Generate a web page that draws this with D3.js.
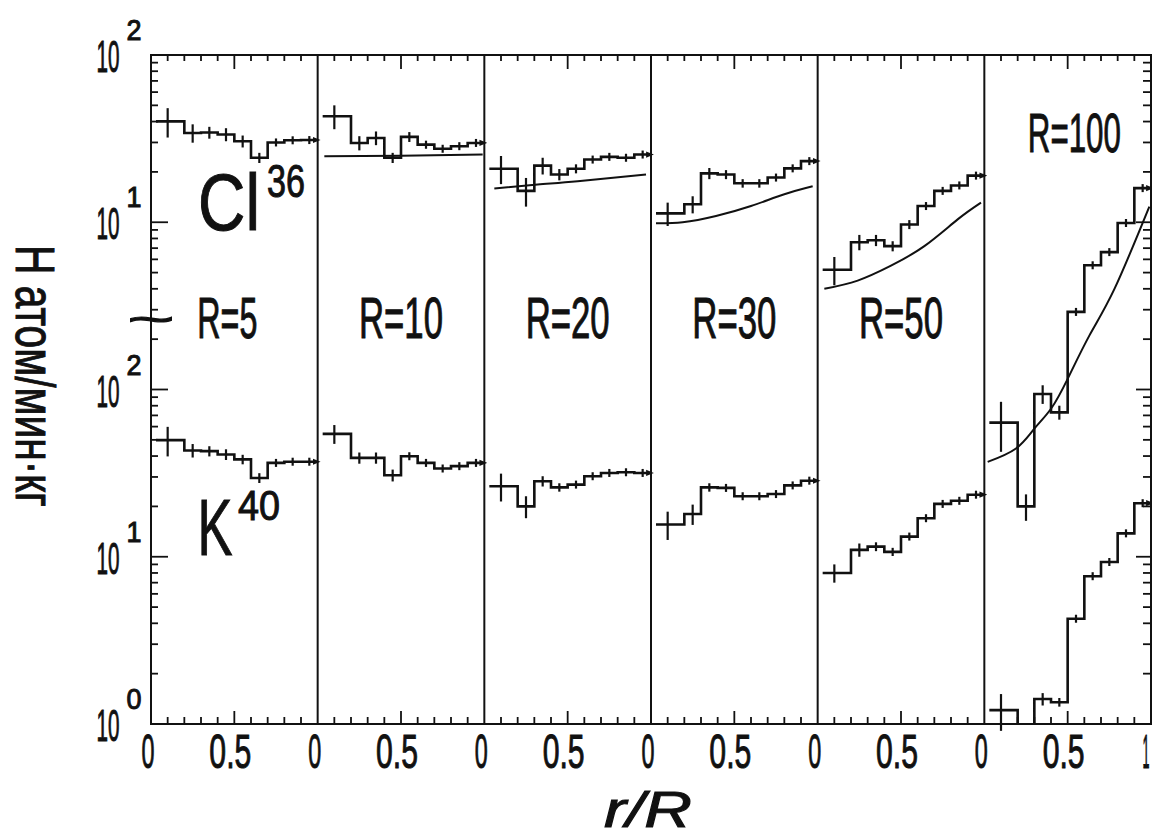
<!DOCTYPE html>
<html>
<head>
<meta charset="utf-8">
<script src="https://cdn.jsdelivr.net/npm/d3@7"></script>
<style>
  body { margin: 0; background: #fff; }
  text { font-family: 'Liberation Sans Narrow', 'Liberation Sans', sans-serif; fill: #111; stroke: #111; stroke-width: 1; }
</style>
</head>
<body>
<div id="chart"></div>
<script>
// panels (sphere radius R) and the r/R bins
const radii = [5, 10, 20, 30, 50, 100];
const binEdges = [0.03, 0.2, 0.3, 0.4, 0.5, 0.6, 0.7, 0.8, 0.9, 0.98];
const binMid = [0.1, 0.25, 0.35, 0.45, 0.55, 0.65, 0.75, 0.85, 0.95];

// Cl36, atoms/min.kg (upper block)
const cl36R5 = [40.1, 34.2, 34.4, 33.5, 30.5, 24.3, 30.0, 30.9, 31.0];
const cl36R10 = [43.0, 29.8, 31.9, 24.3, 32.4, 29.1, 27.5, 28.5, 29.8];
const cl36R20 = [20.9, 15.4, 21.8, 19.3, 20.9, 23.7, 24.6, 24.3, 25.4];
const cl36R30 = [11.3, 12.8, 19.6, 19.3, 17.1, 17.1, 18.5, 21.0, 23.2];
const cl36R50 = [5.2, 7.6, 7.8, 7.2, 9.7, 12.5, 15.4, 16.6, 19.0];
const cl36R100 = [0.634, 0.2, 0.94, 0.73, 2.91, 5.53, 6.63, 9.9, 16.0];

const cl36ErrR5 = [8, 4.3, 2.8, 3, 2.5, 1.7, 1.2, 1.2, 1.2];
const cl36ErrR10 = [7, 2.9, 3, 1.7, 2.2, 1.6, 1.2, 1.2, 1.2];
const cl36ErrR20 = [4, 3, 2.5, 1.5, 1.3, 1, 1, 1, 1];
const cl36ErrR30 = [1.8, 1.5, 1.5, 1.2, 1, 1, 0.8, 0.8, 0.8];
const cl36ErrR50 = [1, 0.8, 0.6, 0.5, 0.6, 0.6, 0.6, 0.6, 0.6];
const cl36ErrR100 = [0.21, 0.036, 0.12, 0.07, 0.15, 0.25, 0.25, 0.3, 0.4];

// K40 (lower block)
const k40R5 = [49.8, 43.2, 42.8, 40.9, 38.2, 29.6, 36.4, 37.0, 37.0];
const k40R10 = [54.3, 39.0, 39.0, 30.7, 39.9, 36.4, 33.7, 34.8, 36.4];
const k40R20 = [26.4, 20.0, 28.3, 26.0, 27.0, 30.3, 31.7, 32.0, 31.7];
const k40R30 = [15.6, 18.0, 26.0, 25.8, 23.0, 23.0, 23.7, 26.7, 28.5];
const k40R50 = [8.0, 11.0, 11.5, 10.7, 13.2, 17.0, 20.7, 21.6, 23.5];
const k40R100 = [1.21, 0.5, 1.41, 1.35, 4.26, 7.65, 9.3, 13.8, 20.9];

const k40ErrR5 = [10, 4, 3, 3, 2.5, 2, 1.5, 1.5, 1.5];
const k40ErrR10 = [7, 3, 3, 2.5, 2, 1.5, 1.2, 1.2, 1.2];
const k40ErrR20 = [5, 3, 2, 1.5, 1.2, 1.2, 1, 1, 1];
const k40ErrR30 = [3, 2.5, 1.5, 1.2, 1, 1, 0.8, 0.8, 0.8];
const k40ErrR50 = [1, 1, 0.7, 0.6, 0.6, 0.6, 0.6, 0.6, 0.6];
const k40ErrR100 = [0.3, 0, 0.12, 0.08, 0.2, 0.3, 0.3, 0.4, 0.5];

// calculated Cl36 curves
const theoryR10X = [0.04, 0.5, 0.99];
const theoryR10Y = [24.8, 25.0, 25.4];
const theoryR20X = [0.06, 0.32, 0.56, 0.97];
const theoryR20Y = [15.9, 16.8, 17.6, 19.3];
const theoryR30X = [0.03, 0.19, 0.39, 0.6, 0.8, 0.97];
const theoryR30Y = [9.86, 10.0, 10.9, 12.5, 14.7, 16.4];
const theoryR50X = [0.04, 0.24, 0.44, 0.64, 0.84, 0.98];
const theoryR50Y = [4.0, 4.48, 5.5, 7.2, 10.4, 13.1];
const theoryR100X = [0.02, 0.19, 0.3, 0.4, 0.5, 0.63, 0.78, 0.99];
const theoryR100Y = [0.369, 0.444, 0.583, 0.767, 1.158, 2.1, 3.98, 12.4];

// axis labels
const highLabelVals = [10, 100];
const lowLabelVals = [1, 10, 100];
const xLabelVals = [0, 0.5];
const xLabelText = ['0', '0.5'];

const W = 1161, H = 837;
const mL = 151, mR = 1151, mT = 55, mB = 724;
const pw = (mR - mL) / radii.length;
const mid = (mT + mB) / 2;

const svg = d3.select('#chart').append('svg')
  .attr('width', W)
  .attr('height', H);

const yLow = d3.scaleLog().domain([1, 100]).range([mB, mid]);
const yHigh = d3.scaleLog().domain([1, 100]).range([mid, mT]);
const xPanel = (i) => d3.scaleLinear().domain([0, 1]).range([mL + i * pw, mL + (i + 1) * pw]);

const panels = [
  { cl: cl36R5, clErr: cl36ErrR5, k: k40R5, kErr: k40ErrR5, tx: null, ty: null },
  { cl: cl36R10, clErr: cl36ErrR10, k: k40R10, kErr: k40ErrR10, tx: theoryR10X, ty: theoryR10Y },
  { cl: cl36R20, clErr: cl36ErrR20, k: k40R20, kErr: k40ErrR20, tx: theoryR20X, ty: theoryR20Y },
  { cl: cl36R30, clErr: cl36ErrR30, k: k40R30, kErr: k40ErrR30, tx: theoryR30X, ty: theoryR30Y },
  { cl: cl36R50, clErr: cl36ErrR50, k: k40R50, kErr: k40ErrR50, tx: theoryR50X, ty: theoryR50Y },
  { cl: cl36R100, clErr: cl36ErrR100, k: k40R100, kErr: k40ErrR100, tx: theoryR100X, ty: theoryR100Y }
];

// narrow plotter-like text: squeeze the glyphs to a given width
function txt(s, cx, y, size, len, pre = '') {
  const t = svg.append('text').attr('font-size', size).text(s);
  const nat = t.node().getComputedTextLength();
  t.attr('transform', `${pre}translate(${cx - len / 2},${y}) scale(${len / nat},1)`);
  return t;
}

const defs = svg.append('defs');
defs.append('clipPath').attr('id', 'plotclip')
  .append('rect')
  .attr('x', mL).attr('y', mT)
  .attr('width', mR - mL).attr('height', mB - mT);

// small arrow tip at the end of each histogram
defs.append('marker')
  .attr('id', 'tip')
  .attr('viewBox', '0 0 10 10')
  .attr('refX', 2).attr('refY', 5)
  .attr('markerWidth', 3).attr('markerHeight', 3)
  .attr('orient', 'auto')
  .append('path')
  .attr('d', 'M0,1 L10,5 L0,9 Z')
  .attr('fill', '#111');

// frame and panel dividers
svg.append('rect')
  .attr('x', mL).attr('y', mT)
  .attr('width', mR - mL).attr('height', mB - mT)
  .attr('fill', 'none').attr('stroke', '#111').attr('stroke-width', 2);

svg.selectAll('.divider')
  .data(d3.range(1, radii.length))
  .enter()
  .append('line')
  .attr('class', 'divider')
  .attr('x1', (d) => mL + d * pw).attr('x2', (d) => mL + d * pw)
  .attr('y1', mT).attr('y2', mB)
  .attr('stroke', '#111').attr('stroke-width', 2);

// y ticks, both sides
const lowTicks = d3.scaleLog().domain([1, 300]).ticks();
const highTicks = d3.scaleLog().domain([4, 100]).ticks();
const yTicks = lowTicks.map((v) => ({ y: yLow(v), major: Number.isInteger(Math.log10(v)) }))
  .concat(highTicks.map((v) => ({ y: yHigh(v), major: Number.isInteger(Math.log10(v)) })));

svg.selectAll('.ytick-l')
  .data(yTicks)
  .enter()
  .append('line')
  .attr('x1', mL).attr('x2', (d) => mL + (d.major ? 17 : 7))
  .attr('y1', (d) => d.y).attr('y2', (d) => d.y)
  .attr('stroke', '#111').attr('stroke-width', 1.8);

svg.selectAll('.ytick-r')
  .data(yTicks)
  .enter()
  .append('line')
  .attr('x1', mR).attr('x2', (d) => mR - (d.major ? 15 : 8))
  .attr('y1', (d) => d.y).attr('y2', (d) => d.y)
  .attr('stroke', '#111').attr('stroke-width', 1.8);

// x ticks, top and bottom of each panel
radii.forEach((r, i) => {
  const x = xPanel(i);
  const tv = d3.range(1, 10).map((d) => d / 10);
  svg.selectAll(null)
    .data(tv)
    .enter()
    .append('line')
    .attr('x1', (d) => x(d)).attr('x2', (d) => x(d))
    .attr('y1', mB).attr('y2', (d) => mB - (d === 0.5 ? 13 : 7))
    .attr('stroke', '#111').attr('stroke-width', 1.8);
  svg.selectAll(null)
    .data(tv)
    .enter()
    .append('line')
    .attr('x1', (d) => x(d)).attr('x2', (d) => x(d))
    .attr('y1', mT).attr('y2', (d) => mT + (d === 0.5 ? 14 : 6))
    .attr('stroke', '#111').attr('stroke-width', 1.8);

  xLabelVals.forEach((v, j) => {
    const t = xLabelText[j];
    txt(t, x(v) - (j === 0 ? 3 : 4), 768, 48, t === '0' ? 13 : 42);
  });
  if (i === radii.length - 1) txt('1', x(1) - 5, 768, 48, 7);
});

// left labels 10^n
function powLabel(y, n) {
  txt('10', 108, y + 17, 44, 23);
  txt(String(n), 134, y - 15, 29, 15);
}
highLabelVals.forEach((v) => powLabel(yHigh(v), Math.log10(v)));
lowLabelVals.forEach((v) => powLabel(yLow(v), Math.log10(v)));

// axis break mark
txt('~', 151, mid - 56, 42, 47).style('stroke-width', 1.2);

// histograms, error crosses, curves
const stepLine = (y, x) => d3.line()
  .x((d) => x(d[0]))
  .y((d) => y(d[1]));

function steps(vals) {
  const pts = [];
  vals.forEach((v, i) => {
    pts.push([binEdges[i], v]);
    pts.push([binEdges[i + 1], v]);
  });
  return pts;
}

function drawSeries(vals, errs, y, x) {
  svg.append('path')
    .datum(steps(vals))
    .attr('clip-path', 'url(#plotclip)')
    .attr('d', stepLine(y, x))
    .attr('fill', 'none').attr('stroke', '#111').attr('stroke-width', 2.6)
    .attr('stroke-linejoin', 'miter')
    .attr('marker-end', 'url(#tip)');

  const bars = vals.map((v, i) => ({ v, e: errs[i], m: binMid[i] }))
    .filter((d) => d.e > 0);
  svg.selectAll(null)
    .data(bars)
    .enter()
    .append('line')
    .attr('x1', (d) => x(d.m)).attr('x2', (d) => x(d.m))
    .attr('y1', (d) => Math.min(y(d.v + d.e), y(d.v) - 4))
    .attr('y2', (d) => Math.max(y(d.v - d.e), y(d.v) + 4))
    .attr('stroke', '#111').attr('stroke-width', 2.2);
}

panels.forEach((p, i) => {
  const x = xPanel(i);
  drawSeries(p.cl, p.clErr, yHigh, x);
  drawSeries(p.k, p.kErr, yLow, x);
  if (p.tx) {
    const curve = d3.line()
      .x((d) => x(d[0]))
      .y((d) => yHigh(d[1]))
      .curve(d3.curveNatural);
    svg.append('path')
      .datum(p.tx.map((d, j) => [d, p.ty[j]]))
      .attr('d', curve)
      .attr('fill', 'none').attr('stroke', '#111').attr('stroke-width', 2);
  }
});

// panel names
radii.forEach((r, i) => {
  const x = xPanel(i);
  if (r === 100) {
    txt('R=' + r, x(0.54), 152, 56, 93);
  } else {
    txt('R=' + r, x(0.5) + (i === 0 ? -7 : 0), 338, 57, r < 10 ? 60 : 84);
  }
});

// isotope names
txt('Cl', 229, 230, 80, 62);
txt('36', 286, 197, 47, 38);
txt('K', 215, 555, 80, 35);
txt('40', 259, 520, 42, 42);

// axis titles
txt('H атом/мин·кг', 131, 0, 56, 262, 'translate(16,245) rotate(90) ');

txt('r/R', 648, 827, 50, 88).attr('font-style', 'italic');
</script>
</body>
</html>
